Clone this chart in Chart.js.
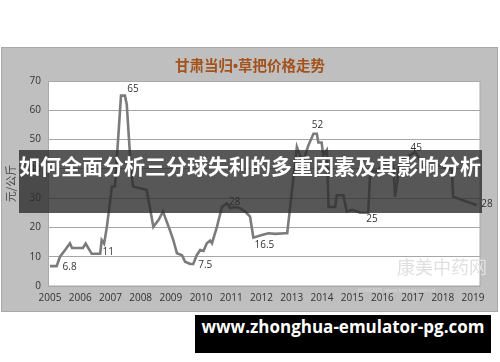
<!DOCTYPE html>
<html><head><meta charset="utf-8">
<script src="https://cdn.jsdelivr.net/npm/chart.js@4/dist/chart.umd.min.js"></script>
<style>
html,body{margin:0;padding:0;background:#fff;width:500px;height:362px;overflow:hidden;font-family:"Noto Sans CJK SC","Noto Sans",sans-serif}
#panel{position:absolute;left:1px;top:47px;width:495px;height:263px;background:#bfbfbf;border:1px solid #a9a9a9}
#wrap{position:absolute;left:2px;top:48px;width:495px;height:263px}
#title{position:absolute;left:0;width:500px;top:54px;text-align:center;font:bold 14.5px "Noto Sans CJK SC";color:#a3521c;line-height:22px}
#title .dot{font-family:"Liberation Sans";font-weight:bold}
#band{position:absolute;left:19px;top:150px;width:463px;height:63px;background:rgba(45,45,45,0.8)}
#bandtxt{position:absolute;left:0;top:150px;width:500px;height:63px;line-height:63px;text-align:center;font:bold 21px "Noto Sans CJK SC";color:#fff;white-space:nowrap}
#url{position:absolute;left:195px;top:315px;width:296px;height:38px;background:#000;color:#fff;text-align:center;line-height:38px;font:bold 17px "Open Sans","Noto Sans",sans-serif;white-space:nowrap}
#wm1{position:absolute;left:397px;top:253px;font:18px "Noto Sans CJK SC";color:#e0e0e0}
#wm2{position:absolute;left:358px;top:287px;font:bold 5px "Noto Sans";color:#d2d2d2;white-space:nowrap}
</style></head>
<body>
<div id="panel"></div>
<div id="wrap"><canvas id="c" width="495" height="263"></canvas></div>
<div id="title">甘肃当归<span class="dot">•</span>草把价格走势</div>
<div id="wm1">康美中药网</div>
<div id="wm2">KANGMEI&nbsp;&nbsp;www.kmzyw.com.cn</div>
<div id="band"></div>
<div id="bandtxt">如何全面分析三分球失利的多重因素及其影响分析</div>
<div id="url">www.zhonghua-emulator-pg.com</div>
<script>
// ---- data ----
const years = [2005.0,2005.22,2005.33,2005.5,2005.66,2005.73,2006.09,2006.18,2006.38,2006.66,2006.71,2006.79,2006.88,2006.99,2007.05,2007.15,2007.35,2007.48,2007.54,2007.68,2007.75,2008.2,2008.42,2008.59,2008.74,2008.97,2009.08,2009.2,2009.37,2009.47,2009.64,2009.74,2009.86,2009.97,2010.08,2010.19,2010.3,2010.36,2010.52,2010.69,2010.85,2010.96,2011.13,2011.29,2011.46,2011.62,2011.73,2012.01,2012.23,2012.45,2012.78,2012.85,2013.17,2013.33,2013.44,2013.55,2013.72,2013.83,2013.88,2013.99,2014.04,2014.16,2014.22,2014.44,2014.49,2014.71,2014.82,2014.99,2015.15,2015.26,2015.53,2015.6,2015.82,2016.03,2016.26,2016.36,2016.42,2016.59,2016.75,2016.92,2017.09,2017.19,2017.31,2017.68,2017.91,2018.14,2018.3,2018.34,2018.8,2019.13];
const prices = [6.8,6.8,10,12.3,14.6,13,13,14.5,11,11,15.7,14.5,20,29,34,34,65,65,62,39.6,34,32.8,20.2,22.5,25.4,19,15.7,11.2,10.5,8.3,7.5,7.5,10.6,12.3,12,14.6,15.5,14.6,20,27,28.2,26.6,27,26.6,25.4,23.7,16.5,17.4,18,17.8,18,18,47.5,43,44.5,48,52,52,49,49,44.7,46.4,27,27,31,31,25.4,26,25.5,25,25,39.6,39,42,43.6,41,30.5,43,43.5,44.7,45.8,44,40.7,40.7,41.3,40,39.7,30.5,28.8,27.6];
const yearTicks = [2005,2006,2007,2008,2009,2010,2011,2012,2013,2014,2015,2016,2017,2018,2019];
const labelYears  = [2005.22,2006.66,2007.48,2009.74,2010.85,2011.73,2013.72,2015.26,2017.09,2019.13];
const labelValues = [6.8,11,65,7.5,28,16.5,52,25,45,28];
const labelTexts  = ["6.8","11","65","7.5","28","16.5","52","25","45","28"];
const labelOffsets = [[13,1],[8,-2],[8,-6],[12,1],[8,-2],[11,7],[4,-9],[12,6],[1,-6],[10,0]];

const points = years.map((x,i)=>({x:x,y:prices[i]}));

const plotFrame = {
  id:'plotFrame',
  beforeDraw(chart){
    const a=chart.chartArea, ctx=chart.ctx;
    ctx.save(); ctx.fillStyle='#fff'; ctx.fillRect(a.left,a.top,a.right-a.left,a.bottom-a.top); ctx.restore();
  },
  beforeDatasetsDraw(chart){
    const a=chart.chartArea, ctx=chart.ctx;
    ctx.save(); ctx.strokeStyle='#a9a9a9'; ctx.lineWidth=1;
    ctx.strokeRect(a.left-0.5,a.top+0.5,a.right-a.left+0.5,a.bottom-a.top-0.5); ctx.restore();
  }
};
const valueLabels = {
  id:'valueLabels',
  afterDatasetsDraw(chart){
    const ctx=chart.ctx, xs=chart.scales.x, ys=chart.scales.y;
    ctx.save(); ctx.font='10px "Open Sans","Noto Sans",sans-serif'; ctx.fillStyle='#333';
    ctx.textAlign='center'; ctx.textBaseline='middle';
    labelTexts.forEach((t,i)=>{
      const px=xs.getPixelForValue(labelYears[i])+labelOffsets[i][0];
      const py=ys.getPixelForValue(labelValues[i])+labelOffsets[i][1];
      ctx.fillText(t,px,py);
    });
    ctx.restore();
  }
};

new Chart(document.getElementById('c'),{
  type:'line',
  data:{datasets:[{data:points,borderColor:'#7b7b7b',borderWidth:2.6,pointRadius:0,tension:0,fill:false}]},
  options:{
    responsive:false,animation:false,
    layout:{padding:{left:0,right:17,top:33,bottom:0}},
    plugins:{legend:{display:false},tooltip:{enabled:false},title:{display:false}},
    scales:{
      x:{type:'linear',min:2004.967,max:2019.23,
         afterBuildTicks(s){s.ticks=yearTicks.map(v=>({value:v}));},
         afterFit(s){s.height=25;},
         grid:{display:false,drawTicks:false},border:{display:false},
         ticks:{color:'#333',font:{family:'"Open Sans","Noto Sans",sans-serif',size:10},padding:6,maxRotation:0,autoSkip:false,callback:v=>String(v)}},
      y:{min:0,max:70,
         afterFit(s){s.width=47;},
         ticks:{stepSize:10,color:'#333',font:{family:'"Open Sans","Noto Sans",sans-serif',size:10},padding:8},
         grid:{color:'#a6a6a6',lineWidth:1,drawTicks:false},border:{display:false},
         title:{display:true,text:'元/公斤',color:'#444',font:{family:'"Noto Sans CJK SC"',size:11},padding:{top:2,bottom:0}}}
    }
  },
  plugins:[plotFrame,valueLabels]
});
</script>
</body></html>
